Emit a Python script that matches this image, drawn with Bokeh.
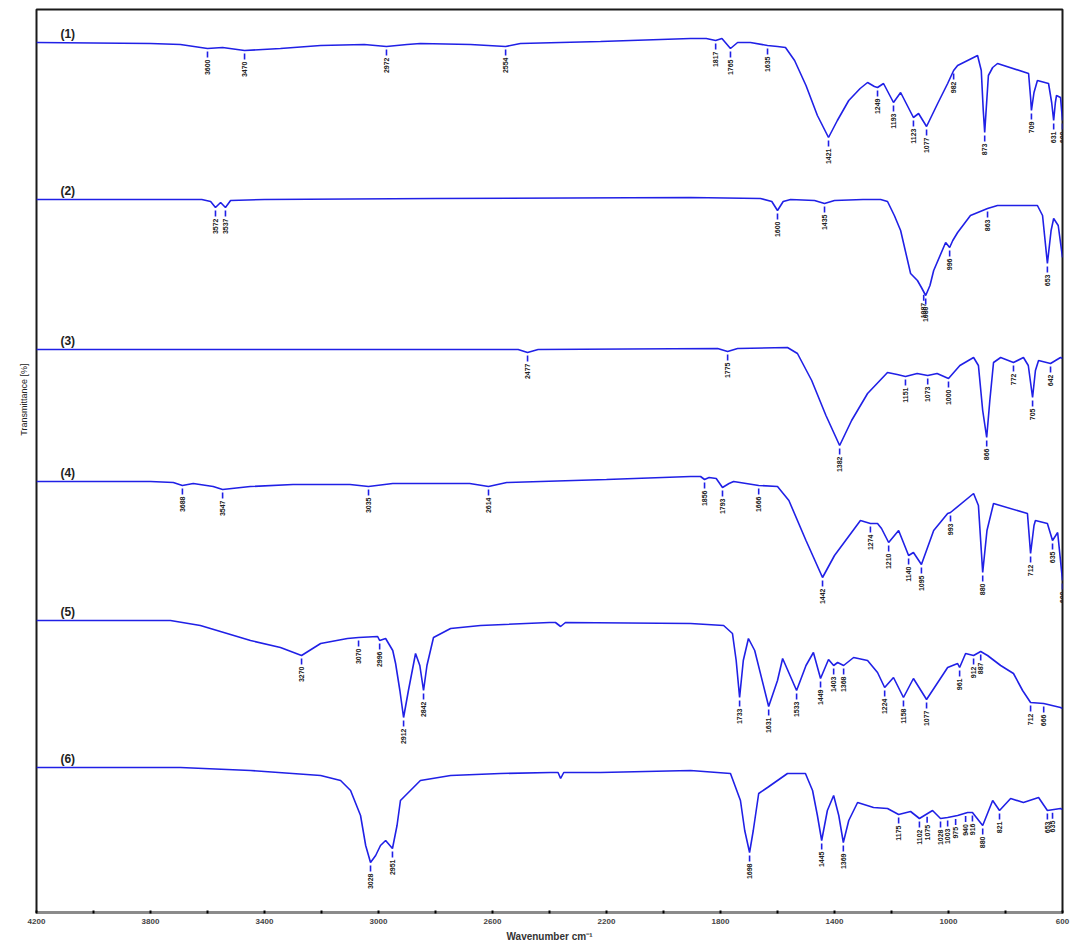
import numpy as np
from bokeh.plotting import figure
from bokeh.models import Range1d, FixedTicker, Title
from bokeh.core.properties import value
from bokeh.embed import file_html
from bokeh.resources import INLINE

# ---------------- data (wavenumber cm-1, absorption depth below each trace's baseline) -------------
wn_1 = [4200, 3800, 3695, 3600, 3547, 3470, 3344, 3203, 3050, 2972, 2900, 2853, 2677, 2554, 2502, 2221,
        1905, 1850, 1817, 1795, 1765, 1740, 1695, 1635, 1600, 1572, 1540, 1500, 1460, 1421, 1390, 1350,
        1310, 1284, 1260, 1249, 1228, 1193, 1168, 1123, 1105, 1077, 1038, 1003, 982, 968, 898, 885, 878,
        873, 868, 860, 845, 828, 719, 712, 709, 700, 688, 649, 638, 631, 625, 621, 607, 600]
depth_1 = [0, 1, 2, 6, 5, 8, 6, 3, 2, 4, 2, 1, 2, 4, 1, -1,
           -4, -4, -2, -4, 6, 0, 0, 3, 4, 5, 18, 43, 73, 95, 78, 58,
           46, 40, 44, 45, 41, 60, 50, 75, 71, 84, 61, 41, 28, 23, 13, 28, 68,
           90, 68, 33, 25, 21, 31, 55, 68, 50, 38, 41, 60, 78, 60, 53, 55, 78]
peaks_1 = [3600, 3470, 2972, 2554, 1817, 1765, 1635, 1421, 1249, 1193, 1123, 1077, 982, 873, 709, 631, 600]

wn_2 = [4200, 3800, 3620, 3589, 3572, 3554, 3537, 3519, 3400, 2800, 1905, 1660, 1620, 1600, 1580, 1554,
        1470, 1435, 1400, 1300, 1238, 1214, 1190, 1168, 1133, 1109, 1095, 1080, 1065, 1052, 1010, 996,
        985, 968, 923, 863, 828, 688, 670, 653, 640, 631, 615, 600]
depth_2 = [0, 0, 0, 2, 8, 3, 8, 1, 0, -1, -2, -1, 2, 11, 2, 0,
           1, 4, 1, 0, 0, 2, 16, 31, 74, 81, 88, 96, 86, 71, 43, 48,
           41, 33, 16, 9, 6, 6, 16, 64, 31, 19, 26, 58]
peaks_2 = [3572, 3537, 1600, 1435, 1087, 1080, 996, 863, 653]

wn_3 = [4200, 2600, 2510, 2477, 2440, 1810, 1775, 1740, 1565, 1530, 1480, 1430, 1382, 1340, 1284, 1214,
        1180, 1151, 1110, 1073, 1040, 1000, 960, 912, 895, 880, 866, 855, 842, 817, 772, 737, 720, 705,
        695, 684, 642, 607, 600]
depth_3 = [0, 0, 0, 3, 0, -1, 2, -1, -2, 4, 31, 66, 96, 71, 44, 23,
           25, 27, 24, 26, 24, 29, 16, 8, 16, 61, 88, 51, 13, 8, 13, 8, 16, 48,
           21, 11, 14, 8, 9]
peaks_3 = [2477, 1775, 1382, 1151, 1073, 1000, 866, 772, 705, 642]

wn_4 = [4200, 3800, 3720, 3688, 3650, 3580, 3547, 3450, 3300, 3100, 3035, 2950, 2680, 2614, 2550, 2200,
        1905, 1870, 1856, 1840, 1815, 1793, 1770, 1754, 1666, 1600, 1560, 1500, 1442, 1400, 1309, 1274,
        1249, 1235, 1210, 1175, 1140, 1123, 1095, 1052, 1003, 993, 912, 895, 880, 865, 842, 723, 712,
        700, 695, 653, 635, 617, 600]
depth_4 = [0, 0, 1, 4, 2, 5, 8, 5, 3, 3, 5, 2, 2, 5, 1, -2,
           -5, -5, -2, -4, -3, 6, 2, 0, 4, 5, 19, 59, 96, 74, 39, 42,
           42, 47, 61, 49, 74, 71, 83, 49, 32, 31, 12, 24, 91, 49, 22, 32, 72,
           44, 39, 42, 59, 51, 99]
peaks_4 = [3688, 3547, 3035, 2614, 1856, 1793, 1666, 1442, 1274, 1210, 1140, 1095, 993, 880, 712, 635, 600]

wn_5 = [4200, 3730, 3625, 3449, 3344, 3270, 3203, 3109, 3070, 3003, 2996, 2975, 2950, 2940, 2925, 2912,
        2895, 2870, 2855, 2842, 2830, 2807, 2747, 2642, 2400, 2379, 2361, 2344, 1905, 1789, 1758, 1745,
        1733, 1720, 1702, 1680, 1631, 1600, 1582, 1533, 1500, 1474, 1449, 1421, 1403, 1389, 1368, 1333,
        1284, 1249, 1224, 1193, 1158, 1123, 1077, 1040, 1003, 968, 961, 940, 912, 887, 863, 817, 772,
        740, 712, 666, 607, 600]
depth_5 = [0, 0, 5, 20, 27, 35, 23, 18, 17, 16, 20, 18, 30, 43, 70, 97,
           70, 33, 45, 70, 45, 17, 8, 5, 2, 2, 6, 2, 3, 5, 13, 40,
           77, 40, 18, 30, 86, 60, 38, 70, 45, 32, 58, 39, 45, 42, 45, 37,
           40, 52, 67, 57, 77, 58, 79, 63, 47, 43, 47, 33, 35, 31, 35, 45, 53,
           70, 82, 83, 87, 88]
peaks_5 = [3270, 3070, 2996, 2912, 2842, 1733, 1631, 1533, 1449, 1403, 1368, 1224, 1158, 1077,
           961, 912, 887, 712, 666]

wn_6 = [4200, 3695, 3449, 3203, 3133, 3098, 3063, 3045, 3028, 3010, 2993, 2975, 2951, 2935, 2923, 2853,
        2747, 2572, 2396, 2370, 2361, 2350, 2221, 1905, 1765, 1730, 1715, 1698, 1685, 1666, 1635, 1565,
        1502, 1477, 1460, 1445, 1425, 1403, 1385, 1369, 1350, 1319, 1263, 1214, 1175, 1133, 1102, 1056,
        1028, 1003, 968, 933, 916, 880, 845, 821, 782, 737, 684, 653, 607, 600]
depth_6 = [0, 0, 3, 8, 13, 23, 48, 78, 95, 88, 78, 73, 81, 58, 33, 13,
           8, 6, 5, 5, 11, 5, 5, 3, 6, 33, 63, 85, 63, 26, 20, 6,
           6, 23, 48, 73, 43, 28, 48, 75, 53, 35, 40, 41, 47, 44, 51, 43,
           51, 50, 48, 45, 45, 58, 33, 43, 31, 35, 30, 43, 41, 42]
peaks_6 = [3028, 2951, 1698, 1445, 1369, 1175, 1102, 1075, 1028, 1003, 975, 940, 916, 880, 821, 653, 635]

names = ["(1)", "(2)", "(3)", "(4)", "(5)", "(6)"]
offsets = [870, 713, 563, 431, 292, 145]

x_ticks = [4200, 3800, 3400, 3000, 2600, 2200, 1800, 1400, 1000, 600]
x_minor = [4000, 3600, 3200, 2800, 2400, 2000, 1600, 1200, 800]

# ---------------- figure --------------------------------------------------------------------------
BLUE = "#2020e6"

p = figure(frame_width=1026, frame_height=903, output_backend="svg", toolbar_location=None,
           x_range=Range1d(4200, 600), y_range=Range1d(0, 903),
           min_border_left=36, min_border_right=12, min_border_top=9, min_border_bottom=24)
p.background_fill_color = "white"
p.border_fill_color = "white"
p.outline_line_color = "#1a1a1a"
p.outline_line_width = 2
p.xgrid.visible = False
p.ygrid.visible = False

p.xaxis.ticker = FixedTicker(ticks=x_ticks, minor_ticks=x_minor)
p.xaxis.major_label_text_font_size = "8px"
p.xaxis.major_label_text_font_style = "bold"
p.xaxis.major_label_text_color = "#444444"
p.xaxis.major_label_text_font = "Liberation Sans"
p.xaxis.major_label_standoff = 5
p.xaxis.major_tick_in = 2
p.xaxis.major_tick_out = 1
p.xaxis.minor_tick_in = 2
p.xaxis.minor_tick_out = 1
p.xaxis.major_tick_line_width = 2
p.xaxis.minor_tick_line_width = 2
p.xaxis.axis_line_color = "#8a8a8a"
p.xaxis.axis_line_width = 1.5
p.xaxis.axis_label = "Wavenumber cm\u207b\u00b9"
p.xaxis.axis_label_text_font_size = "10px"
p.xaxis.axis_label_text_font_style = "bold"
p.xaxis.axis_label_text_color = "#333333"
p.xaxis.axis_label_text_font = "Liberation Sans"
p.xaxis.axis_label_standoff = 4

p.yaxis.ticker = FixedTicker(ticks=[])
p.yaxis.major_tick_line_color = None
p.yaxis.minor_tick_line_color = None
p.yaxis.axis_line_color = None

p.add_layout(Title(text="Transmittance [%]", align="right", offset=354, standoff=15,
                   text_font_size="9px", text_font_style="normal", text_color="#222222",
                   text_font="Liberation Sans"), "left")

series = [(wn_1, depth_1, peaks_1), (wn_2, depth_2, peaks_2), (wn_3, depth_3, peaks_3),
          (wn_4, depth_4, peaks_4), (wn_5, depth_5, peaks_5), (wn_6, depth_6, peaks_6)]

for (wn, dep, pk), name, off in zip(series, names, offsets):
    wn = np.array(wn, dtype=float)
    y = off - np.array(dep, dtype=float)
    p.line(wn, y, line_color=BLUE, line_width=1.6)
    pk = np.array(pk, dtype=float)
    yv = np.interp(pk, wn[::-1], y[::-1])
    p.segment(x0=pk, y0=yv - 3, x1=pk, y1=yv - 9, line_color=BLUE, line_width=1.6)
    p.text(x=pk, y=yv - 11, text=[str(int(v)) for v in pk], angle=np.pi / 2,
           text_align="right", text_baseline="middle", text_font_size="7px",
           text_font_style="bold", text_color="#222222", text_font=value("Liberation Sans"))
    p.text(x=[4116], y=[off + 9], text=[name], text_align="left", text_baseline="middle",
           text_font_size="12px", text_font_style="bold", text_color="#222222",
           text_font=value("Liberation Sans"))

open("out.html", "w").write(file_html(p, INLINE))
